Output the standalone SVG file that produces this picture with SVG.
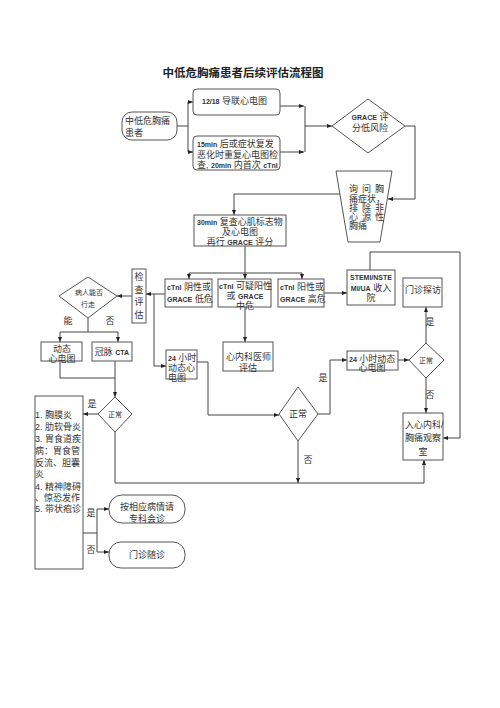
<svg xmlns="http://www.w3.org/2000/svg" width="500" height="708" viewBox="0 0 500 708">
<style>
.bx{fill:#fff;stroke:#555;stroke-width:1}
.ln{fill:none;stroke:#444;stroke-width:1}
.ar{fill:none;stroke:#444;stroke-width:1;marker-end:url(#ah)}
text{font-family:"Liberation Sans","Noto Sans CJK SC",sans-serif;font-size:9px;fill:#333}
.b{font-weight:bold;font-size:7px}
.m{text-anchor:middle}
.s{font-size:7px}
.title{font-size:11.5px;font-weight:bold;fill:#222}
</style>
<defs>
<marker id="ah" viewBox="0 0 10 10" refX="10" refY="5" markerWidth="5" markerHeight="5" orient="auto" markerUnits="userSpaceOnUse">
<path d="M0,1 L10,5 L0,9 z" fill="#222"/>
</marker>
</defs>
<rect width="500" height="708" fill="#fff"/>
<text x="243" y="77" class="title m">中低危胸痛患者后续评估流程图</text>

<g id="connectors">
<path class="ln" d="M177,126 H188 M188,102 V152"/>
<path class="ar" d="M188,102 H193"/>
<path class="ar" d="M188,152 H193"/>
<path class="ar" d="M280,106 H304"/>
<path class="ar" d="M280,152 H304"/>
<path class="ln" d="M305,106 V152"/>
<path class="ar" d="M305,126 H332"/>
<path class="ar" d="M405,126 H415 V199 H388"/>
<path class="ar" d="M340,194 H234 V215"/>
<path class="ln" d="M245,246 V273 M189,273 H302"/>
<path class="ar" d="M189,273 V279"/>
<path class="ar" d="M245,273 V279"/>
<path class="ar" d="M302,273 V279"/>
<path class="ar" d="M324,293 H347"/>
<path class="ar" d="M370,270 V252 H460 V438 H443"/>
<path class="ar" d="M426,343 V307"/>
<path class="ar" d="M426,378 V413"/>
<path class="ar" d="M398,360 H409"/>
<path class="ar" d="M318,414 H330 V360 H347"/>
<path class="ar" d="M298,441 V483"/>
<path class="ar" d="M115,432 V483 H424 V460"/>
<path class="ar" d="M197,362 H208 V415 H279"/>
<path class="ar" d="M245,307 V342"/>
<path class="ar" d="M165,294 H146"/>
<path class="ar" d="M154,294 V366 H166"/>
<path class="ar" d="M132,296 H117"/>
<path class="ln" d="M88,318 V332 M60,332 H118"/>
<path class="ar" d="M60,332 V342"/>
<path class="ar" d="M118,332 V342"/>
<path class="ln" d="M60,361 V378 H115"/>
<path class="ar" d="M115,361 V397"/>
<path class="ar" d="M98,414 H83"/>
<path class="ln" d="M83,533 H97 M97,509 V552"/>
<path class="ar" d="M97,509 H109"/>
<path class="ar" d="M97,552 H109"/>
<text x="430" y="325" class="m">是</text>
<text x="430" y="398" class="m">否</text>
<text x="323" y="381" class="m">是</text>
<text x="308" y="463" class="m">否</text>
<text x="68" y="324" class="m">能</text>
<text x="110" y="324" class="m">否</text>
<text x="92" y="407" class="m">是</text>
<text x="91" y="516" class="m">是</text>
<text x="91" y="553" class="m">否</text>
</g>

<g id="n-patient">
<rect class="bx" x="122" y="112" width="55" height="28" rx="10"/>
<text x="125" y="124">中低危胸痛</text>
<text x="125" y="136">患者</text>
</g>
<g id="n-ecg">
<rect class="bx" x="193" y="89" width="87" height="26" rx="4"/>
<text x="202" y="104"><tspan class="b">12/18</tspan> 导联心电图</text>
</g>
<g id="n-repeat">
<rect class="bx" x="193" y="136" width="87" height="34" rx="4"/>
<text x="197" y="147"><tspan class="b">15min</tspan> 后或症状复发</text>
<text x="197" y="158">恶化时重复心电图检</text>
<text x="197" y="168">查, <tspan class="b">20min</tspan> 内首次 <tspan class="b">cTnI</tspan></text>
</g>
<g id="n-grace">
<polygon class="bx" points="332,126 368,99 405,126 368,153"/>
<text x="370" y="120" class="m"><tspan class="b">GRACE</tspan> 评</text>
<text x="370" y="131" class="m">分低风险</text>
</g>
<g id="n-ask">
<polygon class="bx" points="336,171 392,171 380,242 348,242"/>
<text x="349" y="192">询</text><text x="362" y="192">问</text><text x="375" y="192">胸</text>
<text x="349" y="202">痛症状，</text>
<text x="349" y="211">排</text><text x="362" y="211">除</text><text x="375" y="211">非</text>
<text x="349" y="220">心</text><text x="362" y="220">源</text><text x="375" y="220">性</text>
<text x="349" y="229">胸痛</text>
</g>
<g id="n-30min">
<rect class="bx" x="194" y="215" width="92" height="31"/>
<text x="197" y="225"><tspan class="b">30min</tspan> 复查心肌标志物</text>
<text x="240" y="235" class="m">及心电图</text>
<text x="240" y="245" class="m">再行 <tspan class="b">GRACE</tspan> 评分</text>
</g>
<g id="n-low">
<rect class="bx" x="165" y="279" width="47" height="28"/>
<text x="167" y="290"><tspan class="b">cTnI</tspan> 阴性或</text>
<text x="167" y="302"><tspan class="b">GRACE</tspan> 低危</text>
</g>
<g id="n-mid">
<rect class="bx" x="218" y="279" width="53" height="28"/>
<text x="219" y="289"><tspan class="b">cTnI</tspan> 可疑阳性</text>
<text x="245" y="299" class="m">或 <tspan class="b">GRACE</tspan></text>
<text x="245" y="309" class="m">中危</text>
</g>
<g id="n-high">
<rect class="bx" x="278" y="279" width="46" height="28"/>
<text x="280" y="290"><tspan class="b">cTnI</tspan> 阳性或</text>
<text x="280" y="302"><tspan class="b">GRACE</tspan> 高危</text>
</g>
<g id="n-stemi">
<rect class="bx" x="347" y="270" width="48" height="35"/>
<text x="371" y="280" class="m b">STEMI/NSTE</text>
<text x="371" y="291" class="m"><tspan class="b">MI/UA</tspan> 收入</text>
<text x="371" y="301" class="m">院</text>
</g>
<g id="n-clinic">
<rect class="bx" x="403" y="278" width="39" height="29"/>
<text x="423" y="293" class="m">门诊探访</text>
</g>
<g id="n-normal-r">
<polygon class="bx" points="409,360 426,343 444,360 426,378"/>
<text x="426" y="363" class="m s">正常</text>
</g>
<g id="n-24h-r">
<rect class="bx" x="347" y="351" width="51" height="19"/>
<text x="349" y="362"><tspan class="b">24</tspan> 小时动态</text>
<text x="372" y="371" class="m">心电图</text>
</g>
<g id="n-admit">
<rect class="bx" x="403" y="413" width="40" height="47"/>
<text x="405" y="428">入心内科/</text>
<text x="405" y="441">胸痛观察</text>
<text x="423" y="455" class="m">室</text>
</g>
<g id="n-normal-m">
<polygon class="bx" points="279,414 298,387 318,414 298,441"/>
<text x="298" y="417" class="m">正常</text>
</g>
<g id="n-24h-l">
<rect class="bx" x="166" y="350" width="31" height="29"/>
<text x="168" y="361"><tspan class="b">24</tspan> 小时</text>
<text x="168" y="371">动态心</text>
<text x="168" y="381">电图</text>
</g>
<g id="n-cardio">
<rect class="bx" x="223" y="342" width="50" height="29"/>
<text x="226" y="360">心内科医师</text>
<text x="248" y="371" class="m">评估</text>
</g>
<g id="n-check">
<rect class="bx" x="132" y="269" width="14" height="54"/>
<text x="139" y="280" class="m">检</text>
<text x="139" y="293" class="m">查</text>
<text x="139" y="305" class="m">评</text>
<text x="139" y="318" class="m">估</text>
</g>
<g id="n-walk">
<polygon class="bx" points="59,296 88,277 117,296 88,318"/>
<text x="89" y="295" class="m s">病人能否</text>
<text x="88" y="307" class="m s">行走</text>
</g>
<g id="n-holter">
<rect class="bx" x="41" y="342" width="41" height="19"/>
<text x="62" y="352" class="m">动态</text>
<text x="62" y="362" class="m">心电图</text>
</g>
<g id="n-cta">
<rect class="bx" x="92" y="342" width="40" height="19"/>
<text x="112" y="355" class="m">冠脉 <tspan class="b">CTA</tspan></text>
</g>
<g id="n-normal-l">
<polygon class="bx" points="98,414 115,397 132,414 115,432"/>
<text x="115" y="417" class="m s">正常</text>
</g>
<g id="n-list">
<rect class="bx" x="35" y="396" width="48" height="173"/>
<text x="35" y="418">1. 胸膜炎</text>
<text x="35" y="430">2. 肋软骨炎</text>
<text x="35" y="442">3. 胃食道疾</text>
<text x="35" y="454">病：胃食管</text>
<text x="35" y="466">反流、胆囊</text>
<text x="35" y="477">炎</text>
<text x="35" y="490">4. 精神障碍</text>
<text x="35" y="501">、惊恐发作</text>
<text x="35" y="512">5. 带状疱诊</text>
</g>
<g id="n-consult">
<rect class="bx" x="109" y="495" width="76" height="28" rx="13"/>
<text x="147" y="510" class="m">按相应病情请</text>
<text x="147" y="522" class="m">专科会诊</text>
</g>
<g id="n-follow">
<rect class="bx" x="109" y="542" width="76" height="26" rx="12"/>
<text x="147" y="558" class="m">门诊随诊</text>
</g>
</svg>
